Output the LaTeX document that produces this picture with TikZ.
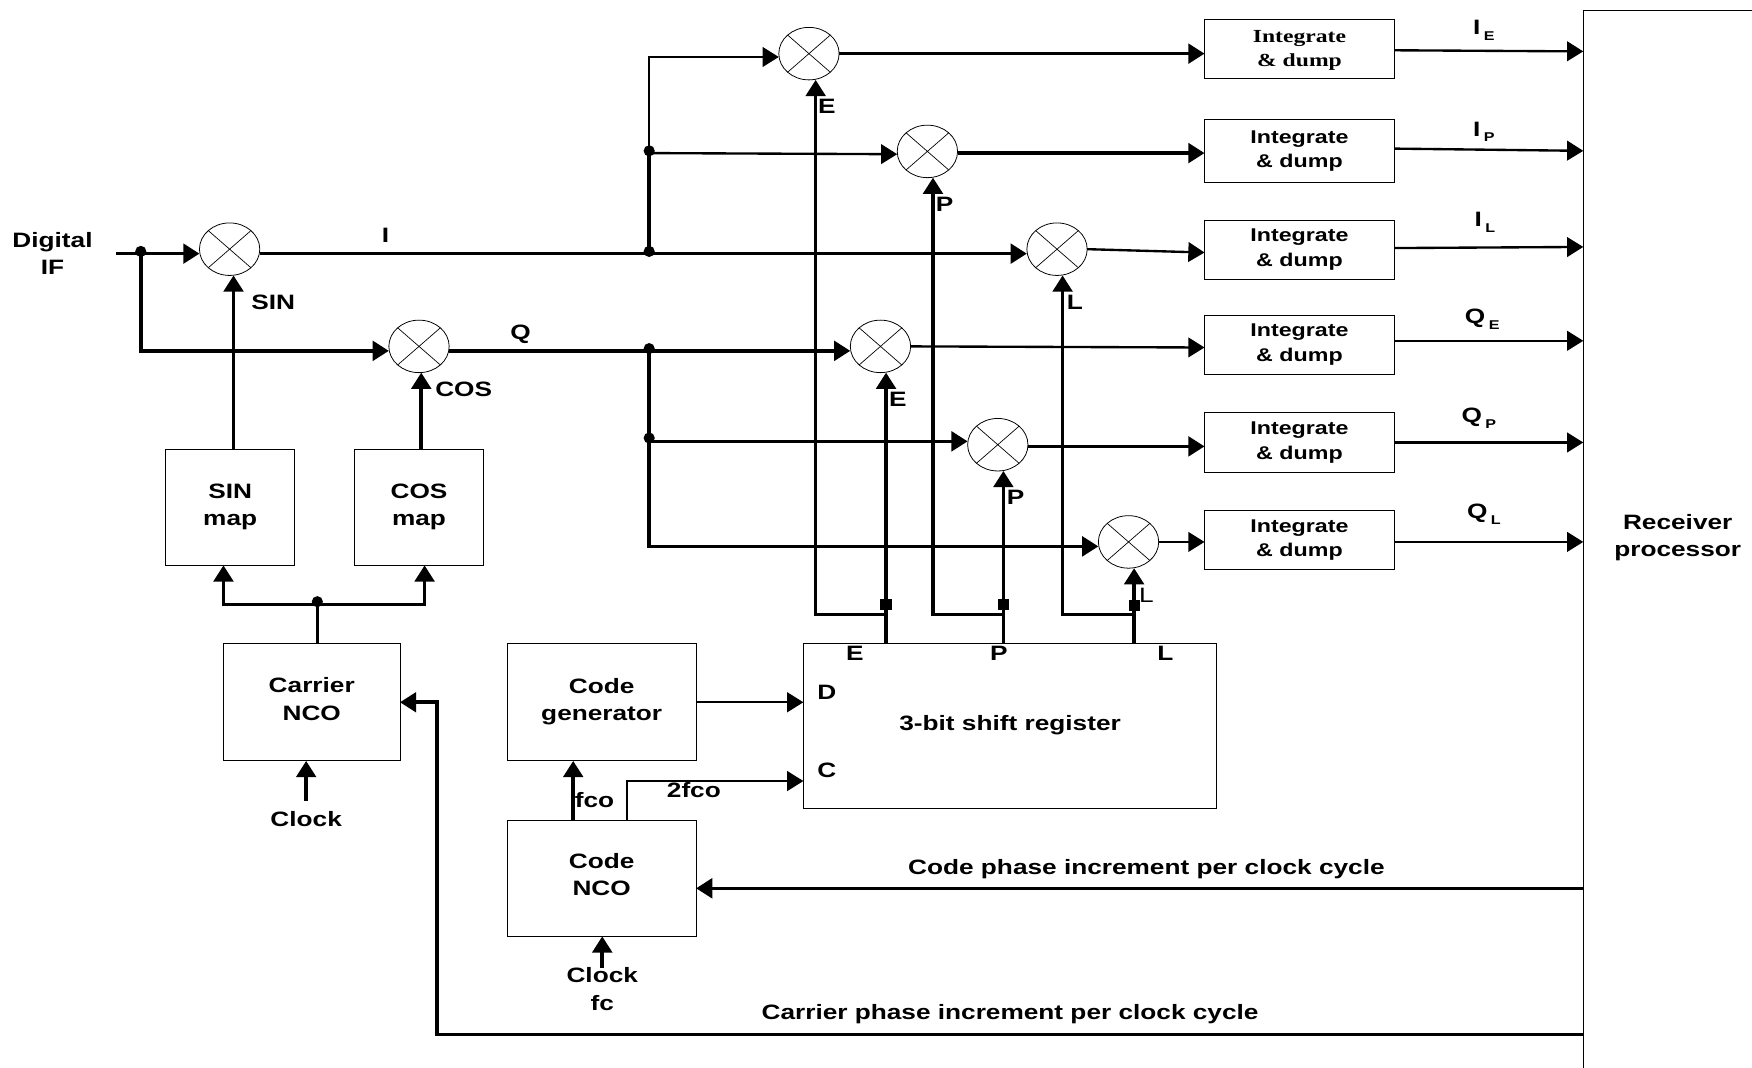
\documentclass[tikz,border=0pt]{standalone}
\usepackage{fontspec}
\setmainfont{Liberation Sans}[FakeStretch=1.26]
\newfontfamily\dumpserif{Liberation Serif}[FakeStretch=1.28]
\usetikzlibrary{arrows.meta,positioning,calc,shapes.geometric}

\tikzset{
  labeltext/.style={font=\fontsize{10.6}{14}\selectfont\bfseries,inner sep=0pt,align=center},
  blockbox/.style={draw,line width=0.5pt,rectangle,inner sep=0pt,outer sep=0pt,labeltext},
  dumpbox/.style={blockbox,minimum width=3.4cm,minimum height=1.06cm,font=\fontsize{9.4}{12.5}\selectfont\bfseries},
  mapbox/.style={blockbox,minimum width=2.32cm,minimum height=2.08cm,text depth=2.8pt},
  mixer/.style={draw,ellipse,line width=0.4pt,minimum width=1.08cm,minimum height=0.94cm,inner sep=0pt,outer sep=0pt,
    path picture={\draw[line width=0.35pt] (path picture bounding box.south west) -- (path picture bounding box.north east)
      (path picture bounding box.north west) -- (path picture bounding box.south east);}},
  wire/.style={line width=1.8pt,line join=miter,-{Triangle[length=2.9mm,width=3.5mm]}},
  plainwire/.style={line width=1.8pt,line join=miter},
  thinwire/.style={line width=1.2pt,line join=miter,-{Triangle[length=2.9mm,width=3.5mm]}},
  rounddot/.style={circle,fill=black,inner sep=0pt,minimum size=0.2cm},
  squaredot/.style={rectangle,fill=black,inner sep=0pt,minimum size=0.2cm},
}

\begin{document}
\begin{tikzpicture}[x=0.02cm,y=-0.02cm]
  \useasboundingbox (0,0) rectangle (1568,955.8);

  % mixers of the two arms
  \node[mixer] (mixI) at (205.5,223) {};
  \node[mixer] (mixQ) at (375,310) {};
  % mixers of the correlators
  \node[mixer] (mixIE) at (724,48) {};
  \node[mixer] (mixIP) at (830,135.5) {};
  \node[mixer] (mixIL) at (946,223) {};
  \node[mixer] (mixQE) at (788,310) {};
  \node[mixer] (mixQP) at (893,398) {};
  \node[mixer] (mixQL) at (1010,485) {};

  % integrate and dump column
  \node[dumpbox,font=\dumpserif\fontsize{9.4}{12.5}\selectfont\bfseries,text depth=0pt] (dumpIE) at (1163,43.5) {Integrate\\\& dump};
  \node[dumpbox,minimum height=1.12cm] (dumpIP) at (1163,135) {Integrate\\\& dump};
  \node[dumpbox] (dumpIL) at (1163,223.5) {Integrate\\\& dump};
  \node[dumpbox] (dumpQE) at (1163,308.5) {Integrate\\\& dump};
  \node[dumpbox] (dumpQP) at (1163,396) {Integrate\\\& dump};
  \node[dumpbox] (dumpQL) at (1163,483.5) {Integrate\\\& dump};

  % lower blocks
  \node[mapbox] (sinmap) at (206,454) {SIN\\map};
  \node[mapbox] (cosmap) at (375,454) {COS\\map};
  \node[blockbox,minimum width=3.16cm,minimum height=2.1cm,text depth=3.4pt] (carrier) at (279,628.5) {Carrier\\NCO};
  \node[blockbox,minimum width=3.38cm,minimum height=2.1cm,text depth=3pt] (codegen) at (538.5,628.5) {Code\\generator};
  \node[blockbox,minimum width=3.38cm,minimum height=2.08cm,text depth=3.6pt] (codenco) at (538.5,786) {Code\\NCO};
  \node[blockbox,minimum width=7.4cm,minimum height=2.96cm,text depth=3pt] (shiftreg) at (904,650) {3-bit shift register};

  % receiver block runs off the page to the right and below
  \coordinate (recv) at (1417,9);
  \draw[line width=0.5pt] (1568,9) -- (recv) -- (1417,955.8);
  \node[labeltext] (recvtext) at (1501.5,481) {Receiver\\processor};

  % branch points
  \coordinate (digin) at (104,227);
  \node[rounddot] (digdot) at (126,225) {};
  \node[rounddot] (itap) at (581,225) {};
  \node[rounddot] (iptap) at (581,135) {};
  \node[rounddot] (qtap) at (581,312) {};
  \node[rounddot] (qptap) at (581,392) {};
  \node[rounddot] (clkdot) at (284,538.5) {};
  \node[squaredot] (tapE) at (793,541) {};
  \node[squaredot] (tapP) at (898,541) {};
  \node[squaredot] (tapL) at (1015,542) {};

  % I and Q arms
  \draw[wire] (digin) -- (mixI.west |- digin);
  \draw[wire] (digdot.center) |- (mixQ.west |- 0,314);
  \draw[wire] (mixI.east |- digin) -- (mixIL.west |- digin);
  \draw[wire] (mixQ.east |- 0,314) -- (mixQE.west |- 0,314);
  \draw[plainwire] (itap.center) -- (iptap.center);
  \draw[thinwire] (iptap.center) |- (mixIE.west |- 0,51);
  \draw[thinwire] (iptap.center |- 0,137) -- (mixIP.west |- 0,138);
  \draw[wire] (qtap.center) |- (mixQL.west |- 0,489);
  \draw[wire] (qptap.center |- 0,395) -- (mixQP.west |- 0,395);

  % mixer outputs
  \draw[wire] (mixIE.east) -- (mixIE.east -| dumpIE.west);
  \draw[wire] ($(mixIP.east)+(0,1.5)$) -- ($(mixIP.east -| dumpIP.west)+(0,1.5)$);
  \draw[thinwire] (mixIL.east) -- ($(mixIL.east -| dumpIL.west)+(0,3)$);
  \draw[thinwire] (mixQE.east) -- ($(mixQE.east -| dumpQE.west)+(0,1)$);
  \draw[wire] ($(mixQP.east)+(0,1.5)$) -- ($(mixQP.east -| dumpQP.west)+(0,1.5)$);
  \draw[thinwire] (mixQL.east) -- (mixQL.east -| dumpQL.west);

  % outputs into the receiver
  \draw[thinwire] ($(dumpIE.east)+(0,1.5)$) -- ($(recv |- dumpIE.east)+(0,2.5)$);
  \draw[thinwire] ($(dumpIP.east)+(0,-2)$) -- (recv |- dumpIP.east);
  \draw[thinwire] ($(dumpIL.east)+(0,-1.5)$) -- ($(recv |- dumpIL.east)+(0,-2.5)$);
  \draw[thinwire] ($(dumpQE.east)+(0,-3.5)$) -- ($(recv |- dumpQE.east)+(0,-3.5)$);
  \draw[thinwire] (dumpQP.east) -- (recv |- dumpQP.east);
  \draw[thinwire] ($(dumpQL.east)+(0,1.5)$) -- ($(recv |- dumpQL.east)+(0,1.5)$);

  % carrier path
  \draw[wire] (sinmap.north -| 209,0) -- (209,0 |- mixI.south);
  \draw[wire] (cosmap.north -| 377,0) -- (377,0 |- mixQ.south);
  \draw[plainwire] (carrier.north -| clkdot) -- (clkdot.center);
  \draw[wire] (clkdot.center |- 0,541) -| (sinmap.south -| 200,0);
  \draw[wire] (clkdot.center |- 0,541) -| (cosmap.south -| 380,0);

  % register outputs, each with a branch up to the I arm
  \draw[wire] (shiftreg.north -| tapE) -- (tapE |- mixQE.south);
  \draw[wire] (shiftreg.north -| tapP) -- (tapP |- mixQP.south);
  \draw[wire] (shiftreg.north -| tapL) -- (tapL |- mixQL.south);
  \draw[wire] (tapE |- 0,550) -| (730,0 |- mixIE.south);
  \draw[wire] (tapP |- 0,550) -| (835,0 |- mixIP.south);
  \draw[wire] (tapL |- 0,550) -| (951,0 |- mixIL.south);

  % code path
  \draw[thinwire] (codegen.east) -- (codegen.east -| shiftreg.west);
  \draw[wire] (codenco.north -| 513,0) -- (codegen.south -| 513,0);
  \draw[thinwire] (codenco.north -| 561,0) |- (shiftreg.west |- 0,699);

  % clocks and feedback from the receiver
  \coordinate (clkcarrier) at (274,717);
  \coordinate (clkcode) at (539,866);
  \draw[wire] (clkcarrier) -- (carrier.south -| clkcarrier);
  \draw[wire] (clkcode) -- (codenco.south -| clkcode);
  \draw[wire] (recv |- 0,795) -- (codenco.east |- 0,795);
  \draw[wire] (recv |- 0,926) -| (391,0 |- carrier.east) -- (carrier.east);

  % signal labels
  \node[labeltext] (digital) at (47,227) {Digital\\IF};
  \node[labeltext] (lbI) at (345,211) {I};
  \node[labeltext] (lbQ) at (466,299) {Q};
  \node[labeltext] (lbsin) at (244.5,271) {SIN};
  \node[labeltext] (lbcos) at (415,348.5) {COS};
  \node[labeltext] (lbIE) at (740,95.5) {E};
  \node[labeltext] (lbIP) at (845.5,183) {P};
  \node[labeltext] (lbIL) at (962,271) {L};
  \node[labeltext] (lbQE) at (803.5,357.5) {E};
  \node[labeltext] (lbQP) at (909,445) {P};
  \node[labeltext,font=\fontsize{10.6}{14}\selectfont] (lbQL) at (1026,533) {L};
  \node[labeltext] (regE) at (765,585) {E};
  \node[labeltext] (regP) at (894,585) {P};
  \node[labeltext] (regL) at (1043,585) {L};
  \node[labeltext] (regD) at (740,620) {D};
  \node[labeltext] (regC) at (740,689) {C};
  \node[labeltext] (lbfco) at (532,716) {fco};
  \node[labeltext] (lbtwofco) at (621,707) {2fco};
  \node[labeltext] (lbclkA) at (274,733) {Clock};
  \node[labeltext] (lbclkB) at (539,885) {Clock\\fc};
  \node[labeltext] (lbcode) at (1026,778) {Code phase increment per clock cycle};
  \node[labeltext] (lbcarrier) at (904,908) {Carrier phase increment per clock cycle};

  % output labels
  \node[labeltext] (outIE) at (1328,27) {I\,\raisebox{-0.5ex}{\fontsize{6.5}{7}\selectfont E}};
  \node[labeltext] (outIP) at (1328,118) {I\,\raisebox{-0.5ex}{\fontsize{6.5}{7}\selectfont P}};
  \node[labeltext] (outIL) at (1329,199) {I\,\raisebox{-0.5ex}{\fontsize{6.5}{7}\selectfont L}};
  \node[labeltext] (outQE) at (1326.5,285.5) {Q\,\raisebox{-0.5ex}{\fontsize{6.5}{7}\selectfont E}};
  \node[labeltext] (outQP) at (1323.5,374.5) {Q\,\raisebox{-0.5ex}{\fontsize{6.5}{7}\selectfont P}};
  \node[labeltext] (outQL) at (1328,460) {Q\,\raisebox{-0.5ex}{\fontsize{6.5}{7}\selectfont L}};
\end{tikzpicture}
\end{document}
